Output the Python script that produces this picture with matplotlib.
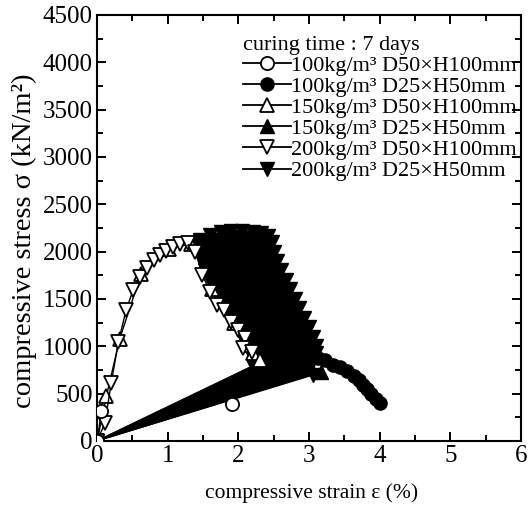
import matplotlib
matplotlib.use("Agg")
import matplotlib.pyplot as plt
import numpy as np
from matplotlib.ticker import MultipleLocator

plt.rcParams['font.family'] = ['Liberation Serif', 'DejaVu Serif']
plt.rcParams['mathtext.fontset'] = 'stix'

# 100kg/m3 D50xH100mm (open circles)
c100_d50_x = [0.0, 0.06, np.nan, 1.91]
c100_d50_y = [0.0, 310, np.nan, 390]

# 100kg/m3 D25xH50mm (filled circles)
c100_d25_x = [0.0, 2.90, 3.02, 3.12, 3.22, 3.34, 3.44, 3.54, 3.63, 3.70, 3.76, 3.82, 3.88, 3.94, 4.00]
c100_d25_y = [0.0, 930, 900, 875, 850, 805, 780, 740, 690, 640, 595, 545, 495, 445, 400]

# 150kg/m3 D50xH100mm (open up triangles)
c150_d50_x = [0.0, 0.13, 0.32, 0.62, 1.02, 1.33, 1.62, 1.93, 2.13, 2.20, 2.31]
c150_d50_y = [0.0, 470, 1080, 1760, 2030, 2080, 1600, 1250, 1010, 930, 855]

# 150kg/m3 D25xH50mm (filled up triangles)
c150_d25_x = [0.0, 3.17]
c150_d25_y = [0.0, 730]

# 200kg/m3 D50xH100mm (open down triangles)
c200_d50_x = [0.0, 0.11, 0.20, 0.30, 0.41, 0.51, 0.60, 0.71, 0.80, 0.89, 0.98, 1.08,
              1.17, 1.28, 1.39, 1.49, 1.60, 1.69, 1.79, 1.89, 2.00, 2.09, 2.06, 2.19]
c200_d50_y = [0, 187, 615, 1040, 1383, 1595, 1735, 1830, 1911, 1964, 2010, 2045,
              2080, 2090, 1995, 1753, 1570, 1436, 1383, 1260, 1172, 1084, 985, 943]

# 200kg/m3 D25xH50mm (filled down triangles) - dense cloud, outline order
c200_d25_x = [0.0, 2.20, 2.25, 2.15, 2.05, 1.95, 1.85, 1.72, 1.62, 1.52, 1.45, 1.38,
              1.45, 1.60, 1.75, 1.90, 2.05, 2.20, 2.32, 2.42,
              2.47, 2.50, 2.55, 2.60, 2.67, 2.73, 2.80, 2.86, 2.93, 3.00, 3.06, 3.10,
              3.10, 3.06]
c200_d25_y = [0, 790, 850, 950, 1100, 1250, 1380, 1500, 1650, 1800, 1950, 2080,
              2120, 2170, 2205, 2220, 2220, 2210, 2195, 2165,
              2100, 2000, 1900, 1800, 1700, 1600, 1500, 1400, 1300, 1200, 1100, 1000,
              930, 697]

labels = [u'100kg/m\u00b3 D50\u00d7H100mm',
          u'100kg/m\u00b3 D25\u00d7H50mm',
          u'150kg/m\u00b3 D50\u00d7H100mm',
          u'150kg/m\u00b3 D25\u00d7H50mm',
          u'200kg/m\u00b3 D50\u00d7H100mm',
          u'200kg/m\u00b3 D25\u00d7H50mm']


def main():
    fig = plt.figure(figsize=(5.28, 5.12), dpi=100)
    ax = fig.add_axes([0.184, 0.139, 0.803, 0.832])

    ms = 9.5
    mew = 1.3

    # dense filled series: solid cloud
    ax.fill(c200_d25_x, c200_d25_y, color='k', lw=1, zorder=2)
    ax.plot(c200_d25_x, c200_d25_y, 'k-', marker='v', ms=ms, mfc='k', mec='k',
            lw=1, zorder=2)

    ax.plot(c100_d25_x, c100_d25_y, 'k-', marker='o', ms=ms, mfc='k', mec='k',
            lw=1, zorder=3)
    ax.plot(c150_d25_x, c150_d25_y, 'k-', marker='^', ms=ms, mfc='k', mec='k',
            lw=1, zorder=3)
    ax.plot(c150_d50_x, c150_d50_y, 'k-', marker='^', ms=ms, mfc='w', mec='k',
            mew=mew, lw=1, zorder=4)
    ax.plot(c200_d50_x, c200_d50_y, 'k-', marker='v', ms=ms, mfc='w', mec='k',
            mew=mew, lw=1, zorder=5)
    ax.plot(c100_d50_x, c100_d50_y, 'k-', marker='o', ms=ms, mfc='w', mec='k',
            mew=mew, lw=1, zorder=5)

    # legend handles in the original order
    h = []
    h += ax.plot([], [], 'k-', marker='o', ms=ms, mfc='w', mec='k', mew=mew, lw=1.3)
    h += ax.plot([], [], 'k-', marker='o', ms=ms, mfc='k', mec='k', lw=1.3)
    h += ax.plot([], [], 'k-', marker='^', ms=ms, mfc='w', mec='k', mew=mew, lw=1.3)
    h += ax.plot([], [], 'k-', marker='^', ms=ms, mfc='k', mec='k', lw=1.3)
    h += ax.plot([], [], 'k-', marker='v', ms=ms, mfc='w', mec='k', mew=mew, lw=1.3)
    h += ax.plot([], [], 'k-', marker='v', ms=ms, mfc='k', mec='k', lw=1.3)

    leg = ax.legend(h, labels, title='curing time : 7 days', loc='upper left',
                    bbox_to_anchor=(0.344, 0.951), frameon=False, fontsize=16,
                    title_fontsize=16, handlelength=2.15, handletextpad=0.0,
                    labelspacing=0.025, borderpad=0, borderaxespad=0,
                    alignment='left')
    leg.set_zorder(10)

    # axes:
    ax.set_xlim([0, 6])
    ax.set_ylim([0, 4500])
    ax.xaxis.set_major_locator(MultipleLocator(1))
    ax.xaxis.set_minor_locator(MultipleLocator(0.5))
    ax.yaxis.set_major_locator(MultipleLocator(500))
    ax.yaxis.set_minor_locator(MultipleLocator(250))
    ax.tick_params(which='both', direction='in', top=True, right=True,
                   width=1.4, labelsize=18, pad=3)
    ax.tick_params(which='major', length=6.5)
    ax.tick_params(which='minor', length=4.3)
    for sp in ax.spines.values():
        sp.set_linewidth(1.5)

    # labels:
    ax.set_xlabel(u"compressive strain \u03b5 (%)", fontsize=15.5)
    ax.xaxis.set_label_coords(0.505, -0.099)
    ax.set_ylabel(u"compressive stress \u03c3 (kN/m\u00b2)", fontsize=20.5)
    ax.yaxis.set_label_coords(-0.141, 0.47)

    # saving:
    fig.savefig("out.png", dpi=100)


if __name__ == "__main__":
    main()
